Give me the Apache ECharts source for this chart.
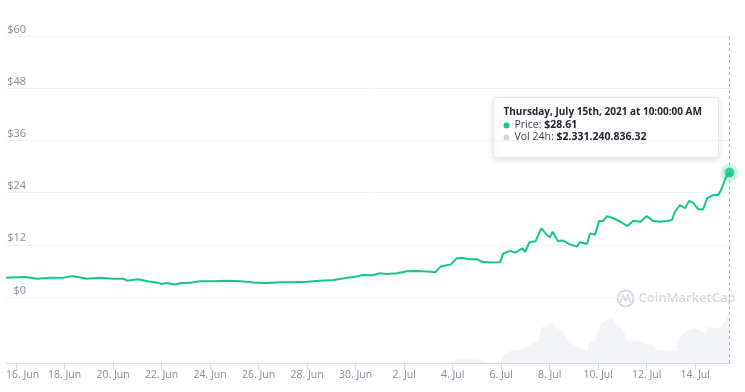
<!DOCTYPE html>
<html>
<head>
<meta charset="utf-8">
<script src="https://cdn.jsdelivr.net/npm/echarts@6/dist/echarts.min.js"></script>
<style>
html,body{margin:0;padding:0;background:#fff;}
#chart{width:745px;height:392px;}
</style>
</head>
<body>
<div id="chart"></div>
<script>
// ---- data ----
const priceTimes = [
'2021-06-15 14:00','2021-06-16 09:00','2021-06-16 21:00','2021-06-17 10:00','2021-06-17 22:00',
'2021-06-18 07:00','2021-06-18 13:00','2021-06-18 22:00','2021-06-19 11:00','2021-06-20 00:00',
'2021-06-20 10:00','2021-06-20 14:00','2021-06-21 00:00','2021-06-21 10:00','2021-06-21 20:00',
'2021-06-22 00:00','2021-06-22 05:00','2021-06-22 13:00','2021-06-22 20:00','2021-06-23 04:00',
'2021-06-23 14:00','2021-06-24 03:00','2021-06-24 17:00','2021-06-25 06:00','2021-06-25 19:00',
'2021-06-26 08:00','2021-06-26 21:00','2021-06-27 10:00','2021-06-28 00:00','2021-06-28 13:00',
'2021-06-29 02:00','2021-06-29 16:00','2021-06-30 01:00','2021-06-30 07:00','2021-06-30 17:00',
'2021-07-01 00:00','2021-07-01 07:00','2021-07-01 17:00','2021-07-02 03:00','2021-07-02 13:00',
'2021-07-02 23:00','2021-07-03 07:00','2021-07-03 12:00','2021-07-03 22:00','2021-07-04 04:00',
'2021-07-04 10:00','2021-07-04 17:00','2021-07-05 00:00','2021-07-05 05:00','2021-07-05 13:00',
'2021-07-05 23:00','2021-07-06 02:00','2021-07-06 09:00','2021-07-06 14:00','2021-07-06 21:00',
'2021-07-07 00:00','2021-07-07 04:00','2021-07-07 10:00','2021-07-07 16:00','2021-07-07 20:00',
'2021-07-08 00:00','2021-07-08 03:00','2021-07-08 08:00','2021-07-08 13:00','2021-07-08 20:00',
'2021-07-09 03:00','2021-07-09 06:00','2021-07-09 13:00','2021-07-09 16:00','2021-07-09 21:00',
'2021-07-10 01:00','2021-07-10 05:00','2021-07-10 09:00','2021-07-10 15:00','2021-07-10 22:00',
'2021-07-11 05:00','2021-07-11 11:00','2021-07-11 18:00','2021-07-12 00:00','2021-07-12 06:00',
'2021-07-12 13:00','2021-07-12 20:00','2021-07-13 01:00','2021-07-13 04:00','2021-07-13 09:00',
'2021-07-13 14:00','2021-07-13 18:00','2021-07-13 22:00','2021-07-14 03:00','2021-07-14 08:00',
'2021-07-14 12:00','2021-07-14 18:00','2021-07-14 23:00','2021-07-15 02:00','2021-07-15 06:00',
'2021-07-15 10:00','2021-07-15 13:00'
];
const prices = [
4.4,4.6,4.2,4.45,4.4,
4.8,4.6,4.2,4.4,4.2,
4.2,3.75,4.1,3.6,3.3,
3.0,3.2,2.85,3.2,3.3,
3.6,3.6,3.75,3.6,3.35,
3.2,3.4,3.4,3.5,3.75,
3.9,4.4,4.7,5.05,5.0,
5.45,5.3,5.45,5.9,6.0,
5.85,5.7,7.0,7.45,8.9,
8.95,8.65,8.7,8.1,7.95,
8.0,10.0,10.6,10.2,11.2,
10.4,12.6,12.8,15.8,14.6,
13.7,15.0,12.9,13.0,12.1,
11.6,12.6,12.2,14.6,14.3,
17.5,17.5,18.6,18.1,17.3,
16.3,17.55,17.3,18.6,17.55,
17.3,17.45,17.7,19.6,21.15,
20.4,22.1,21.7,20.2,20.2,
22.7,23.45,23.45,24.75,27.3,
28.61,27.8
];
const volumeTimes = [
'2021-06-15 14:00','2021-07-04 02:00','2021-07-04 05:00','2021-07-05 05:00','2021-07-05 08:00',
'2021-07-06 01:00','2021-07-06 02:00','2021-07-06 09:00','2021-07-06 19:00','2021-07-07 02:00',
'2021-07-07 08:00','2021-07-07 13:00','2021-07-07 16:00','2021-07-07 20:00','2021-07-08 02:00',
'2021-07-08 07:00','2021-07-08 13:00','2021-07-08 17:00','2021-07-08 23:00','2021-07-09 06:00',
'2021-07-09 13:00','2021-07-09 16:00','2021-07-09 21:00','2021-07-10 02:00','2021-07-10 07:00',
'2021-07-10 14:00','2021-07-10 19:00','2021-07-11 00:00','2021-07-11 05:00','2021-07-11 15:00',
'2021-07-11 23:00','2021-07-12 06:00','2021-07-12 11:00','2021-07-12 16:00','2021-07-12 23:00',
'2021-07-13 06:00','2021-07-13 07:00','2021-07-13 12:00','2021-07-13 17:00','2021-07-13 22:00',
'2021-07-14 05:00','2021-07-14 10:00','2021-07-14 13:00','2021-07-14 18:00','2021-07-15 01:00',
'2021-07-15 06:00','2021-07-15 10:00'
];
// 24h volume, billions of USD
const volumes = [
0,0.02,0.19,0.17,0.04,
0.05,0.37,0.56,0.65,0.79,
0.93,1.03,1.68,1.72,1.91,
1.63,1.54,1.03,0.89,0.70,
0.56,1.03,1.03,1.77,1.96,
2.14,1.72,1.63,1.07,1.03,
0.89,0.84,0.61,0.61,0.56,
0.56,1.12,1.35,1.54,1.63,
1.54,1.35,1.72,1.63,1.68,
2.00,2.33
];
const xTickDates = ['2021-06-16','2021-06-18','2021-06-20','2021-06-22','2021-06-24','2021-06-26','2021-06-28','2021-06-30',
'2021-07-02','2021-07-04','2021-07-06','2021-07-08','2021-07-10','2021-07-12','2021-07-14'];
const monthNames = ['Jan','Feb','Mar','Apr','May','Jun','Jul','Aug','Sep','Oct','Nov','Dec'];
const xStart = '2021-06-15 14:00';
const xEnd = '2021-07-15 13:30';
const tooltipTime = '2021-07-15 10:00';
const tooltipTitle = 'Thursday, July 15th, 2021 at 10:00:00 AM';
const tooltipVolume = '$2,331,240,836.32';

function parseLocal(s){
  const parts = s.split(' ');
  const dp = parts[0].split('-').map(Number);
  let hh=0, mm=0;
  if (parts[1]){ const tp = parts[1].split(':').map(Number); hh=tp[0]; mm=tp[1]; }
  return new Date(dp[0], dp[1]-1, dp[2], hh, mm).getTime();
}

const priceData = priceTimes.map((t,i)=>[parseLocal(t), prices[i]]);
const volData = volumeTimes.map((t,i)=>[parseLocal(t), volumes[i]]);
const tipT = parseLocal(tooltipTime);
const tipIdx = priceTimes.indexOf(tooltipTime);
const tipPrice = prices[tipIdx];
const ticks = xTickDates.map(parseLocal);
const xMin = parseLocal(xStart), xMax = parseLocal(xEnd);

const FONT = 'Open Sans';
const labelColor = '#858ca2';
const green = '#16c784';

const chart = echarts.init(document.getElementById('chart'), null, {renderer:'canvas'});
chart.setOption({
  animation:false,
  backgroundColor:'#fff',
  grid:[
    {left:6, right:12, top:36, bottom:95},
    {left:6, right:12, top:297, bottom:29}
  ],
  xAxis:[
    {type:'value', gridIndex:0, min:xMin, max:xMax,
     axisLine:{show:false}, axisTick:{show:false}, axisLabel:{show:false}, splitLine:{show:false}},
    {type:'value', gridIndex:1, min:xMin, max:xMax,
     axisLine:{show:true, onZero:false, lineStyle:{color:'#d6dbe6', width:1}},
     axisTick:{show:true, customValues:ticks, length:7, lineStyle:{color:'#d6dbe6'}},
     axisLabel:{show:true, customValues:ticks, margin:7, color:labelColor, fontFamily:FONT, fontSize:10.5,
       formatter:function(v){
         const d = new Date(v);
         const s = d.getDate()+'. '+monthNames[d.getMonth()];
         return v===ticks[0] ? '{f|'+s+'}' : s;
       },
       rich:{f:{padding:[0,0,0,13], color:labelColor, fontFamily:FONT, fontSize:10.5}}
     },
     splitLine:{show:false}}
  ],
  yAxis:[
    {type:'value', gridIndex:0, min:0, max:60, interval:12,
     axisLine:{show:false}, axisTick:{show:false},
     axisLabel:{inside:true, align:'right', margin:20, verticalAlign:'bottom', padding:[0,0,1,0],
       color:labelColor, fontFamily:FONT, fontSize:11, formatter:'${value}'},
     splitLine:{show:true, lineStyle:{color:'#eff2f5', width:1}}},
    {type:'value', gridIndex:1, min:0, max:3.1, show:false, splitLine:{show:false}}
  ],
  series:[
    {type:'line', name:'Vol 24h', xAxisIndex:1, yAxisIndex:1, data:volData, showSymbol:false,
     lineStyle:{width:0}, areaStyle:{color:'#f3f4f7', opacity:1}, silent:true, z:1,
     markLine:{silent:true, symbol:'none', label:{show:false},
       lineStyle:{color:'#aab2c5', type:[3,3], width:1}, data:[{xAxis:tipT}]}},
    {type:'line', name:'Price', xAxisIndex:0, yAxisIndex:0, data:priceData, showSymbol:false,
     lineStyle:{width:2, color:green}, itemStyle:{color:green}, z:3,
     markLine:{silent:true, symbol:'none', label:{show:false},
       lineStyle:{color:'#aab2c5', type:[3,3], width:1}, data:[{xAxis:tipT}]}},
    {type:'scatter', xAxisIndex:0, yAxisIndex:0, data:[[tipT, tipPrice]], symbolSize:10, z:5,
     itemStyle:{color:green, borderColor:'rgba(22,199,132,0.25)', borderWidth:8}}
  ],
  graphic:[
    {type:'group', left:615, top:288, silent:true, children:[
      {type:'circle', shape:{cx:9, cy:9, r:8}, style:{fill:'none', stroke:'#d3d8e1', lineWidth:2}},
      {type:'polyline', shape:{points:[[4,13],[6.5,6],[9,11],[11.5,6],[14,13]]}, style:{fill:'none', stroke:'#d3d8e1', lineWidth:2}},
      {type:'text', x:22, y:9, style:{text:'CoinMarketCap', fill:'#d3d8e1', font:'600 13px "Open Sans"', verticalAlign:'middle'}}
    ]},
    {type:'group', left:493, top:97, z:100, children:[
      {type:'rect', shape:{x:0, y:0, width:225, height:60, r:2},
       style:{fill:'#fff', stroke:'#e3e6ec', lineWidth:1, shadowBlur:6, shadowColor:'rgba(0,0,0,0.12)', shadowOffsetY:2}},
      {type:'text', x:10, y:15, style:{text:tooltipTitle, fill:'#222531', font:'bold 10px "Open Sans"', verticalAlign:'middle'}},
      {type:'circle', shape:{cx:13, cy:28, r:3}, style:{fill:green}},
      {type:'text', x:21, y:28, style:{
        text:'{l|Price: }{v|$'+tipPrice.toFixed(2)+'}', verticalAlign:'middle',
        rich:{l:{fill:'#3a3f4b', font:'10.5px "Open Sans"'}, v:{fill:'#222531', font:'bold 10.5px "Open Sans"'}}}},
      {type:'circle', shape:{cx:13, cy:40, r:3}, style:{fill:'#cfd6e4'}},
      {type:'text', x:21, y:40, style:{
        text:'{l|Vol 24h: }{v|'+tooltipVolume+'}', verticalAlign:'middle',
        rich:{l:{fill:'#3a3f4b', font:'10.5px "Open Sans"'}, v:{fill:'#222531', font:'bold 10.5px "Open Sans"'}}}}
    ]}
  ]
});
</script>
</body>
</html>
